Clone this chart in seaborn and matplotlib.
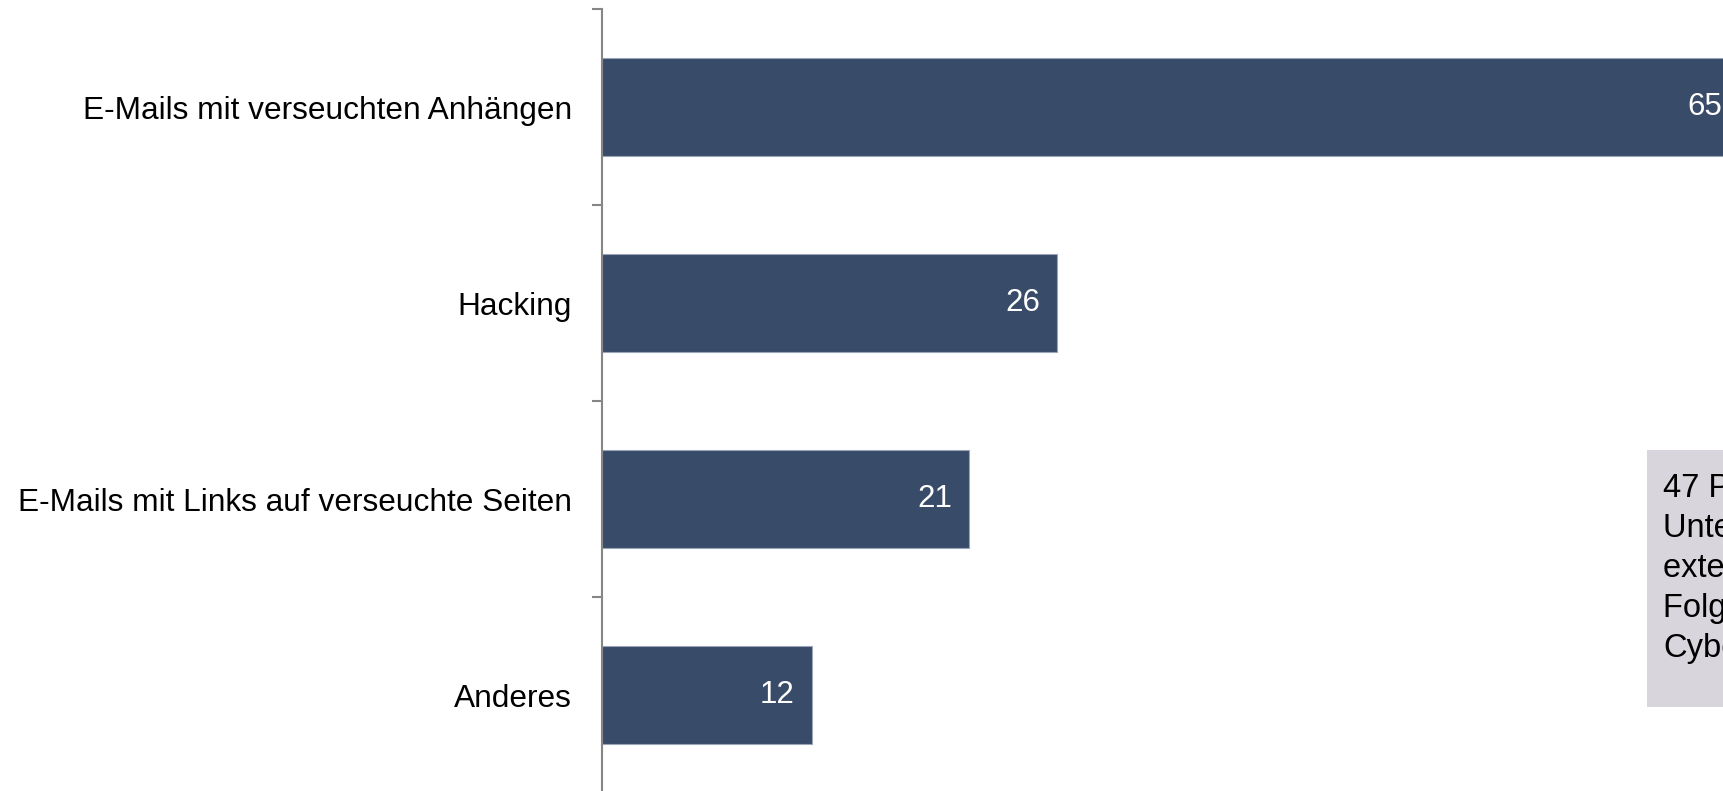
import matplotlib
matplotlib.use("Agg")
import matplotlib.pyplot as plt
import seaborn as sns
import pandas as pd
from matplotlib.patches import Rectangle

# Attack vectors and share of companies (%)
categories = [
    "E-Mails mit verseuchten Anhängen",
    "Hacking",
    "E-Mails mit Links auf verseuchte Seiten",
    "Anderes",
]
values = [65, 26, 21, 12]
note_lines = ["47 Prozent der", "Unternehmen mit", "externen Angriffen", "Folgen durch", "Cyberattacken"]

sns.set_theme(style="white")
plt.rcParams["font.family"] = ["Liberation Sans", "DejaVu Sans"]

W, H, DPI = 1724, 791, 100
fig = plt.figure(figsize=(W / DPI, H / DPI), dpi=DPI)
fig.patch.set_facecolor("white")

# Plot area: value axis at x=602 px, 17.5 px per percentage point
px_per_unit = 17.5
xmax = 70
ax_left = 602 / W
ax_w = xmax * px_per_unit / W
ax_top = 9
ax_bottom = 793
ax = fig.add_axes([ax_left, 1 - ax_bottom / H, ax_w, (ax_bottom - ax_top) / H])

df = pd.DataFrame({"Kategorie": categories, "Wert": values})
bar_color = "#384B68"
sns.barplot(data=df, y="Kategorie", x="Wert", orient="h", color=bar_color,
            width=0.5, saturation=1, ax=ax, edgecolor="#9AA6B8", linewidth=0.8)

ax.set_xlim(0, xmax)
ax.set_ylim(3.5, -0.5)
ax.set_xlabel("")
ax.set_ylabel("")
ax.set_xticks([])

# Category ticks sit between the bars
ax.set_yticks([i + 0.5 for i in range(-1, len(categories))], minor=False)
ax.set_yticklabels([])
ax.set_yticks(range(len(categories)), minor=True)
ax.set_yticklabels(categories, minor=True)
ax.tick_params(axis="y", which="major", length=7.2, width=1.5, color="#868686",
               direction="out", left=True)
ax.tick_params(axis="y", which="minor", length=0, pad=21.5, labelsize=22.8,
               labelcolor="black")

for side in ["top", "right", "bottom"]:
    ax.spines[side].set_visible(False)
ax.spines["left"].set_color("#868686")
ax.spines["left"].set_linewidth(1.5)

# Value labels inside the bar ends
for patch, v in zip(ax.patches, values):
    y = patch.get_y() + patch.get_height() / 2
    ax.annotate(str(v), xy=(patch.get_width(), y), xytext=(-17, 0),
                textcoords="offset pixels", ha="right", va="center",
                color="white", fontsize=22.5, clip_on=False)

# Grey note box on the right
bx, by_top, by_bot = 1647, 450, 707
fig.patches.append(Rectangle((bx / W, 1 - by_bot / H), 300 / W, (by_bot - by_top) / H,
                             transform=fig.transFigure, facecolor="#D9D5DC",
                             edgecolor="none", zorder=0))
fig.text(1663 / W, 1 - 473 / H, "\n".join(note_lines), ha="left", va="top",
         fontsize=23.5, color="black", linespacing=1.37)

fig.savefig("out.png", dpi=DPI)
